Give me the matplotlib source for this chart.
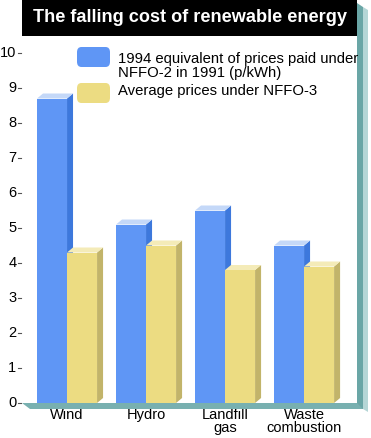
import numpy as np
import matplotlib.pyplot as plt
from matplotlib.patches import Polygon, FancyBboxPatch

plt.rcParams['font.family'] = ['Liberation Sans', 'DejaVu Sans']

# Data (p/kWh)
categories = ['Wind', 'Hydro', 'Landfill\ngas', 'Waste\ncombustion']
nffo2 = [8.7, 5.1, 5.5, 4.5]
nffo3 = [4.3, 4.5, 3.8, 3.9]
series_labels = ['1994 equivalent of prices paid under\nNFFO-2 in 1991 (p/kWh)',
                 'Average prices under NFFO-3']
yticks = list(range(0, 11))

blue = ('#5f96f5', '#3d78dc', '#c4d8f8')    # front, side, top
yellow = ('#ecdc82', '#c2b46a', '#f4ebb8')

W, H = 371, 438
fig = plt.figure(figsize=(W / 100, H / 100), dpi=100)
fig.patch.set_facecolor('white')

# axes placed so that y=0 sits at pixel 403 and y=10 at pixel 53
ax = fig.add_axes([22 / W, (H - 403) / H, 335 / W, 350 / H])
ax.set_xlim(-0.57, 3.67)
ax.set_ylim(0, 10)
ax.axis('off')

bw = 0.38            # bar width in group units
dx = 6 / 79          # depth offset, x
dy = 5 / 35          # depth offset, y


def bar3d(x0, h, cols):
    front, side, top = cols
    ax.add_patch(Polygon([(x0, 0), (x0 + bw, 0), (x0 + bw, h), (x0, h)],
                         closed=True, fc=front, ec='none', zorder=3))
    ax.add_patch(Polygon([(x0 + bw, 0), (x0 + bw + dx, dy), (x0 + bw + dx, h + dy), (x0 + bw, h)],
                         closed=True, fc=side, ec='none', zorder=2))
    ax.add_patch(Polygon([(x0, h), (x0 + dx, h + dy), (x0 + bw + dx, h + dy), (x0 + bw, h)],
                         closed=True, fc=top, ec='none', zorder=2))


for i, (a, b) in enumerate(zip(nffo2, nffo3)):
    bar3d(i - bw, a, blue)
    bar3d(i, b, yellow)
    ax.text(i, -0.15, categories[i], ha='center', va='top', fontsize=10.5,
            linespacing=0.92, clip_on=False)

# y ticks
for t in yticks:
    ax.text(-0.64, t, str(t), ha='right', va='center', fontsize=10.5, clip_on=False)
    ax.plot([-0.62, -0.585], [t, t], color='#555555', lw=0.8, clip_on=False)

# teal floor and right wall
fig.patches.append(Polygon([(22 / W, 1 - 403 / H), (360 / W, 1 - 403 / H),
                            (364 / W, 1 - 409 / H), (30 / W, 1 - 409 / H)],
                           closed=True, fc='#78b0b0', ec='none',
                           transform=fig.transFigure))
fig.patches.append(Polygon([(357 / W, 1 - 3 / H), (363 / W, 1 - 7 / H),
                            (363 / W, 1 - 409 / H), (357 / W, 1 - 403 / H)],
                           closed=True, fc='#6aa6a6', ec='none',
                           transform=fig.transFigure))
fig.patches.append(Polygon([(363 / W, 1 - 7 / H), (368 / W, 1 - 10 / H),
                            (368 / W, 1 - 412 / H), (363 / W, 1 - 409 / H)],
                           closed=True, fc='#b5d6d6', ec='none',
                           transform=fig.transFigure))

# title box
fig.patches.append(plt.Rectangle((22 / W, 1 - 36 / H), 335 / W, 36 / H,
                                 fc='black', ec='none', transform=fig.transFigure))
fig.text(190 / W, 1 - 17 / H, 'The falling cost of renewable energy', color='white',
         fontsize=13.1, fontweight='bold', ha='center', va='center')

# legend
for lab, cols, yb, yt in zip(series_labels, (blue, yellow), (57, 93), (66.5, 91.5)):
    fig.patches.append(FancyBboxPatch((77 / W, 1 - (yb + 10) / H), 33 / W, 20 / H,
                                      boxstyle='round,pad=0,rounding_size=0.012',
                                      fc=cols[0], ec='none', transform=fig.transFigure))
    fig.text(118 / W, 1 - yt / H, lab, fontsize=10.7, ha='left', va='center',
             linespacing=1.0)

fig.savefig('out.png', dpi=100)
